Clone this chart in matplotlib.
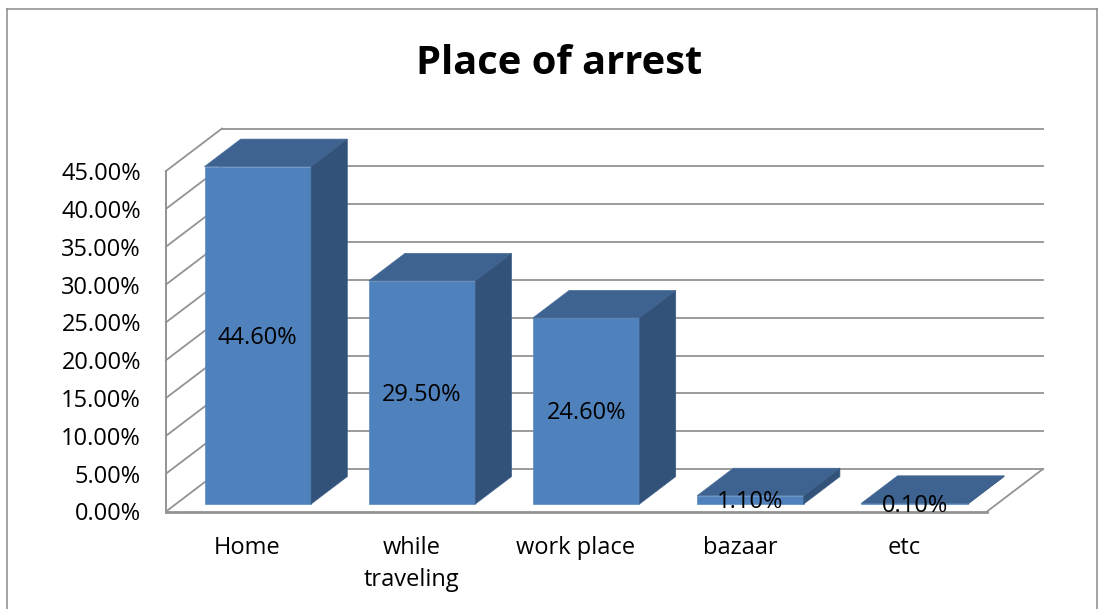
# place of arrest, 3d looking column chart
import numpy as np
import matplotlib.pyplot as plt
from matplotlib.lines import Line2D
from matplotlib.patches import Polygon

plt.rcParams['font.family'] = ['Open Sans', 'DejaVu Sans']

categories = ['Home', 'while\ntraveling', 'work place', 'bazaar', 'etc']
values = [44.6, 29.5, 24.6, 1.1, 0.1]
value_labels = ['44.60%', '29.50%', '24.60%', '1.10%', '0.10%']
y_ticks = [0, 5, 10, 15, 20, 25, 30, 35, 40, 45]
y_tick_labels = ['0.00%', '5.00%', '10.00%', '15.00%', '20.00%', '25.00%', '30.00%', '35.00%', '40.00%', '45.00%']

W, H = 1100, 609
grid_color = '#939393'
font_size = 17

fig = plt.figure(figsize=(W / 100, H / 100), dpi=100)
# axes is the front plane of the box
ax = fig.add_axes([166 / W, (H - 511.5) / H, 821 / W, 340.5 / H])
ax.set_xlim(0, 5)
ax.set_ylim(0, 45)
ax.patch.set_visible(False)
for s in ax.spines.values():
    s.set_visible(False)

# depth of the floor in data units
depth_x = 56 / 164.2
depth_y = 42.5 / 7.567
# where the bars stand on the floor
base_f = 0.175
bar_f = 0.647
bar_w = 0.649

# back wall and left wall gridlines
for t in y_ticks:
    ax.plot([depth_x, 5 + depth_x], [t + depth_y, t + depth_y], color=grid_color, lw=1.3, clip_on=False, zorder=1)
    ax.plot([0, depth_x], [t, t + depth_y], color=grid_color, lw=1.3, clip_on=False, zorder=1)
ax.plot([0, 0], [0, 45], color=grid_color, lw=1.4, clip_on=False, zorder=2)
ax.plot([0, 5], [0, 0], color=grid_color, lw=2, clip_on=False, zorder=2)
ax.plot([5, 5 + depth_x], [0, depth_y], color=grid_color, lw=1.3, clip_on=False, zorder=2)

# bars, drawn as front + top + side
for i, v in enumerate(values):
    x0 = i + 0.2345
    x1 = x0 + bar_w
    y0 = depth_y * base_f
    y1 = y0 + v
    dx = depth_x * bar_f
    dy = depth_y * bar_f
    ax.add_patch(Polygon([(x0, y0), (x1, y0), (x1, y1), (x0, y1)], fc='#4f81bd', ec='#5b8ac2', lw=0.5, clip_on=False, zorder=3))
    ax.add_patch(Polygon([(x0, y1), (x1, y1), (x1 + dx, y1 + dy), (x0 + dx, y1 + dy)], fc='#3e6390', ec='#4a6f9c', lw=0.5, clip_on=False, zorder=3))
    ax.add_patch(Polygon([(x1, y0), (x1 + dx, y0 + dy), (x1 + dx, y1 + dy), (x1, y1)], fc='#325279', ec='#3e5f88', lw=0.5, clip_on=False, zorder=3))
    ax.text((x0 + x1) / 2, y0 + v / 2 - 0.3, value_labels[i], ha='center', va='center', fontsize=font_size, color='black', zorder=5)

ax.set_yticks(y_ticks)
ax.set_yticklabels(y_tick_labels, fontsize=font_size)
ax.set_xticks(np.arange(5) + 0.495)
ax.set_xticklabels(categories, fontsize=font_size, linespacing=1.4)
ax.tick_params(axis='y', length=0, pad=18, colors='black')
ax.tick_params(axis='x', length=0, pad=18, colors='black')

fig.text(559 / W, (H - 63) / H, 'Place of arrest', ha='center', va='center', fontsize=28.7, fontweight='bold')

# outer chart border (bottom is cut off in the original)
for xs, ys in [([6.5, 6.5], [9, 609]), ([6.5, 1097], [9, 9]), ([1097, 1097], [9, 609])]:
    fig.add_artist(Line2D([x / W for x in xs], [(H - y) / H for y in ys], color='#8c8c8c', lw=1.1))

fig.savefig('out.png', dpi=100)
